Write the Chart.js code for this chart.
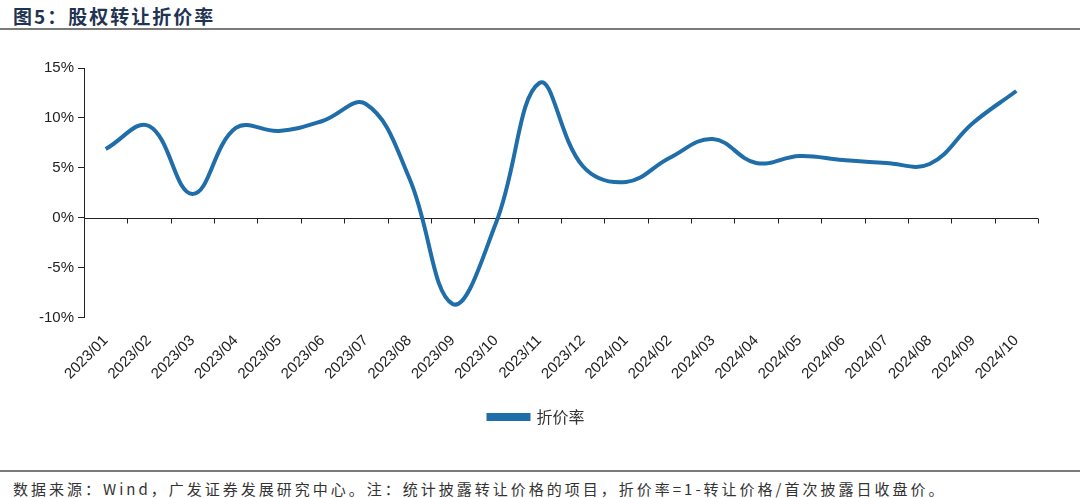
<!DOCTYPE html>
<html>
<head>
<meta charset="utf-8">
<script src="https://cdn.jsdelivr.net/npm/chart.js@4"></script>
<style>
  body { margin: 0; background: #fff; width: 1080px; height: 498px; overflow: hidden; position: relative; }
  #title { position: absolute; left: 13px; top: 2px; font: bold 19px "Noto Sans CJK SC"; color: #1f3352; letter-spacing: 2px; }
  .rule { position: absolute; left: 0; width: 1080px; height: 2px; background: #7a7a7a; }
  #wrap { position: absolute; left: 0; top: 30px; width: 1080px; height: 440px; }
  #footer { position: absolute; left: 13px; top: 478px; font: 15px "Noto Sans CJK SC"; color: #333; letter-spacing: 3px; }
</style>
</head>
<body>
<div id="title">图5：股权转让折价率</div>
<div class="rule" style="top:28px"></div>
<div id="wrap"><canvas id="discountChart"></canvas></div>
<div class="rule" style="top:470px"></div>
<div id="footer">数据来源：Wind，广发证券发展研究中心。注：统计披露转让价格的项目，折价率=1-转让价格/首次披露日收盘价。</div>
<script>
// 月份
const months = ['2023/01', '2023/02', '2023/03', '2023/04', '2023/05', '2023/06', '2023/07', '2023/08',
  '2023/09', '2023/10', '2023/11', '2023/12', '2024/01', '2024/02', '2024/03', '2024/04',
  '2024/05', '2024/06', '2024/07', '2024/08', '2024/09', '2024/10'];
// 折价率 (%)
const discountRate = [6.9, 9.2, 2.4, 9.0, 8.7, 9.7, 11.4, 4.0, -8.6, -0.5, 13.5, 5.2,
  3.6, 6.0, 7.9, 5.5, 6.2, 5.8, 5.5, 5.4, 9.5, 12.7];
const yTicks = [-10, -5, 0, 5, 10, 15];

// 0% 横线和刻度
const zeroAxis = {
  id: 'zeroAxis',
  beforeDatasetsDraw(chart) {
    const { ctx, scales: { x, y } } = chart;
    const y0 = Math.round(y.getPixelForValue(0)) + 0.5;
    ctx.save();
    ctx.strokeStyle = '#222';
    ctx.lineWidth = 1;
    ctx.beginPath();
    ctx.moveTo(x.left, y0);
    ctx.lineTo(x.right, y0);
    for (let i = 0; i <= months.length; i++) {
      const px = Math.round(x.getPixelForValue(i - 0.5)) + 0.5;
      ctx.moveTo(px, y0);
      ctx.lineTo(px, y0 + 5);
    }
    ctx.stroke();
    ctx.restore();
  }
};

new Chart(document.getElementById('discountChart'), {
  type: 'line',
  data: {
    labels: months,
    datasets: [{
      label: '折价率',
      data: discountRate,
      borderColor: '#1f6eaa',
      backgroundColor: '#1f6eaa',
      borderWidth: 4,
      pointRadius: 0,
      tension: 0.4,
      fill: false
    }]
  },
  options: {
    responsive: true,
    maintainAspectRatio: false,
    animation: false,
    layout: { padding: { top: 38, right: 42, bottom: 35, left: 35 } },
    plugins: {
      tooltip: { enabled: false },
      legend: {
        position: 'bottom',
        labels: {
          boxWidth: 40,
          boxHeight: 4,
          padding: 20,
          color: '#333',
          font: { family: '"Noto Sans CJK SC"', size: 16 }
        }
      }
    },
    scales: {
      x: {
        offset: true,
        grid: { display: false },
        border: { display: false },
        ticks: {
          minRotation: 45,
          maxRotation: 45,
          autoSkip: false,
          padding: 6,
          color: '#222',
          font: { family: '"Liberation Sans"', size: 15 }
        }
      },
      y: {
        min: -10,
        max: 15,
        afterBuildTicks(scale) { scale.ticks = yTicks.map(v => ({ value: v })); },
        grid: { drawOnChartArea: false, drawTicks: true, tickLength: 6, color: '#222' },
        border: { display: true, color: '#222' },
        ticks: {
          padding: 4,
          color: '#222',
          font: { family: '"Liberation Sans"', size: 15 },
          callback: v => v + '%'
        }
      }
    }
  },
  plugins: [zeroAxis]
});
</script>
</body>
</html>
